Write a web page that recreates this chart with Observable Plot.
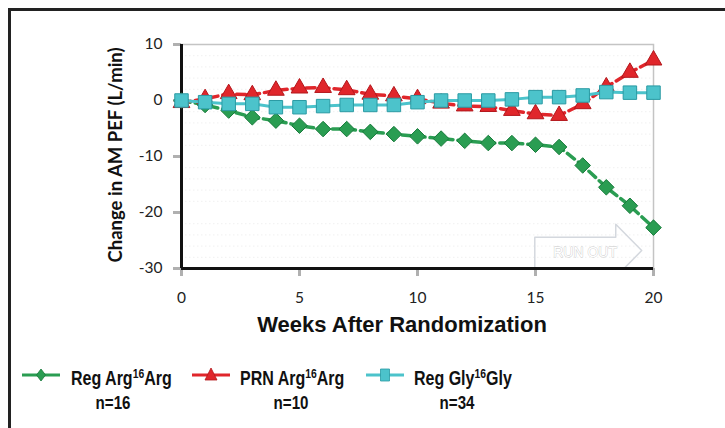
<!DOCTYPE html>
<html>
<head>
<meta charset="utf-8">
<script src="https://cdn.jsdelivr.net/npm/d3@7"></script>
<script src="https://cdn.jsdelivr.net/npm/@observablehq/plot@0.6"></script>
<style>
  html, body { margin: 0; padding: 0; background: #fff; }
  body { width: 725px; height: 428px; position: relative; overflow: hidden; }
  #frame { position: absolute; left: 8px; top: 8px; width: 730px; height: 430px;
           border-left: 3px solid #222; border-top: 3px solid #222; }
  #chart { position: absolute; left: 11px; top: 11px; }
  #overlay { position: absolute; left: 0; top: 0; pointer-events: none; }
</style>
</head>
<body>
<div id="frame"></div>
<div id="chart"></div>
<svg id="overlay" width="725" height="428"></svg>
<script>
// ---------- data ----------
const weeks = [0,1,2,3,4,5,6,7,8,9,10,11,12,13,14,15,16,17,18,19,20];
const regArgArg = [0, -0.8, -1.8, -3.0, -3.6, -4.5, -5.1, -5.1, -5.6, -6.0, -6.4, -6.8, -7.2, -7.6, -7.6, -7.9, -8.3, -11.6, -15.5, -18.8, -22.7];
const prnArgArg = [-0.4, 0.3, 1.2, 1.0, 1.8, 2.2, 2.3, 1.9, 1.1, 0.8, 0.3, -0.5, -1.0, -1.1, -1.8, -2.4, -2.7, -0.6, 2.4, 5.0, 7.2];
const regGlyGly = [0, -0.3, -0.6, -0.6, -1.2, -1.2, -1.0, -0.8, -0.8, -0.8, -0.3, 0, 0, 0, 0.2, 0.6, 0.6, 0.9, 1.5, 1.4, 1.4];
const xTicks = [0, 5, 10, 15, 20];
const yTicks = [10, 0, -10, -20, -30];
const gridTicks = [8, 6, 4, 2, -2, -4, -6, -8, -12, -14, -16, -18, -22, -24, -26, -28];
const seriesNames = ["Reg Arg", "PRN Arg", "Reg Gly"];
const seriesSupers = ["16", "16", "16"];
const seriesTails = ["Arg", "Arg", "Gly"];
const seriesN = ["n=16", "n=10", "n=34"];
const xTitle = "Weeks After Randomization";
const yTitle = "Change in AM PEF (L/min)";
// "RUN OUT" annotation arrow (in data units)
const runOutArrowX = [14.97, 14.97, 18.4, 18.4, 19.5, 18.75];
const runOutArrowY = [-30, -24.4, -24.4, -22.1, -26.8, -30];
const runOutLabel = {week: 17.1, value: -27.1, text: "RUN OUT"};

// ---------- build tables ----------
const toRows = vals => vals.map((v, i) => ({week: weeks[i], value: v}));
const green = toRows(regArgArg), red = toRows(prnArgArg), cyan = toRows(regGlyGly);
const arrow = runOutArrowX.map((x, i) => ({week: x, value: runOutArrowY[i]}));

const C = {
  green: "#2a9d52", greenDark: "#167a3a",
  red: "#e0262b", redDark: "#b3161b",
  cyan: "#4cc3cb", cyanDark: "#2a9aa3"
};

const chart = Plot.plot({
  width: 714, height: 300,
  marginLeft: 170, marginRight: 72, marginTop: 33, marginBottom: 43,
  style: {fontFamily: "Lato, 'Open Sans', sans-serif", fontSize: "15.5px", color: "#222", background: "transparent", overflow: "visible"},
  x: {domain: [0, 20]},
  y: {domain: [-30, 10]},
  marks: [
    Plot.gridY(gridTicks, {stroke: "#f0f0f0", strokeOpacity: 1, strokeDasharray: "1.5,2.5"}),
    Plot.frame({stroke: "#c4c4c4", strokeWidth: 1.5}),
    // annotation
    Plot.line(arrow, {x: "week", y: "value", stroke: "#d4d8de", strokeWidth: 1.5, clip: false}),
    Plot.text([runOutLabel], {x: "week", y: "value", text: "text", fill: "#fff", stroke: "#c9c9c9", strokeWidth: 0.8,
      fontSize: 14, fontFamily: "'Liberation Sans', Arial, sans-serif"}),
    // axes
    Plot.axisX(xTicks, {tickSize: 8, tickPadding: 15, stroke: "#b0b0b0", strokeWidth: 3, fill: "#222", label: null, tickFormat: d => String(d)}),
    Plot.axisY(yTicks, {tickSize: 8, tickPadding: 11, stroke: "#b0b0b0", strokeWidth: 3, fill: "#222", label: null, tickFormat: d => String(d)}),
    Plot.ruleX([0], {stroke: "#111", strokeWidth: 3}),
    Plot.ruleY([-30], {stroke: "#111", strokeWidth: 3}),
    // series
    Plot.line(green, {x: "week", y: "value", stroke: C.green, strokeWidth: 3.5, strokeDasharray: "9,5"}),
    Plot.dot(green, {x: "week", y: "value", symbol: "diamond2", r: 7, fill: C.green, stroke: C.greenDark, strokeWidth: 1}),
    Plot.line(red, {x: "week", y: "value", stroke: C.red, strokeWidth: 3.5, strokeDasharray: "9,5"}),
    Plot.dot(red, {x: "week", y: "value", symbol: "triangle", r: 6.2, fill: C.red, stroke: C.redDark, strokeWidth: 1}),
    Plot.line(cyan, {x: "week", y: "value", stroke: C.cyan, strokeWidth: 3}),
    Plot.dot(cyan, {x: "week", y: "value", symbol: "square", r: 7.6, fill: C.cyan, stroke: C.cyanDark, strokeWidth: 1})
  ]
});
document.getElementById("chart").appendChild(chart);

// ---------- titles & legend ----------
const ov = d3.select("#overlay");
ov.append("text")
  .attr("transform", "translate(116,155) rotate(-90)")
  .attr("text-anchor", "middle").attr("dy", "0.35em")
  .attr("font-family", "Lato, 'Open Sans', sans-serif").attr("font-weight", "bold").attr("font-size", 18.5)
  .attr("fill", "#111").text(yTitle);
ov.append("text")
  .attr("x", 402).attr("y", 332).attr("text-anchor", "middle")
  .attr("font-family", "'Liberation Sans', Arial, sans-serif").attr("font-weight", "bold").attr("font-size", 22)
  .attr("fill", "#111").text(xTitle);

const legendItems = [
  {x0: 22, x1: 60, tx: 71, nx: 113, color: C.green, dark: C.greenDark, shape: "diamond"},
  {x0: 192, x1: 230, tx: 240, nx: 291, color: C.red, dark: C.redDark, shape: "triangle"},
  {x0: 366, x1: 404, tx: 414, nx: 457, color: C.cyan, dark: C.cyanDark, shape: "square"}
];
const ly = 375;
const fontNarrow = "'Liberation Sans', Arial, sans-serif";
legendItems.forEach((it, i) => {
  const g = ov.append("g");
  g.append("line").attr("x1", it.x0).attr("x2", it.x1).attr("y1", ly).attr("y2", ly)
    .attr("stroke", it.color).attr("stroke-width", 3);
  const cx = (it.x0 + it.x1) / 2;
  let d;
  if (it.shape === "diamond") d = `M${cx},${ly-6}L${cx+4.5},${ly}L${cx},${ly+6}L${cx-4.5},${ly}Z`;
  else if (it.shape === "triangle") d = `M${cx},${ly-7}L${cx+6},${ly+5}L${cx-6},${ly+5}Z`;
  else d = `M${cx-4.5},${ly-6}L${cx+4.5},${ly-6}L${cx+4.5},${ly+6}L${cx-4.5},${ly+6}Z`;
  g.append("path").attr("d", d).attr("fill", it.color).attr("stroke", it.dark).attr("stroke-width", 0.8);
  const t = g.append("text").attr("transform", `translate(${it.tx},384.5) scale(0.8,1)`)
    .attr("font-family", fontNarrow)
    .attr("font-weight", "bold").attr("font-size", 20).attr("fill", "#111");
  t.append("tspan").text(seriesNames[i]);
  t.append("tspan").attr("dy", -6.5).attr("font-size", 13).text(seriesSupers[i]);
  t.append("tspan").attr("dy", 6.5).text(seriesTails[i]);
  g.append("text").attr("transform", `translate(${it.nx},408.5) scale(0.84,1)`).attr("text-anchor", "middle")
    .attr("font-family", fontNarrow)
    .attr("font-weight", "bold").attr("font-size", 18).attr("fill", "#111").text(seriesN[i]);
});
</script>
</body>
</html>
